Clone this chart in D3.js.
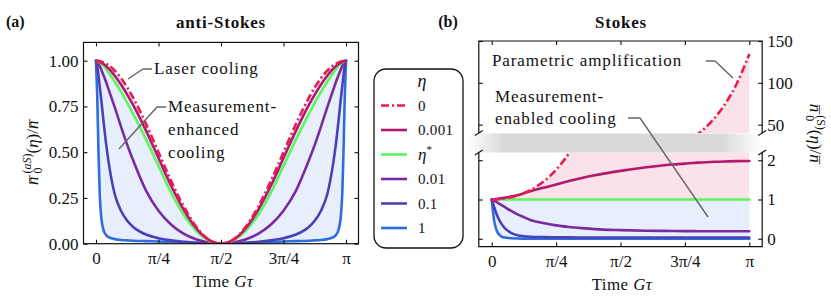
<!DOCTYPE html>
<html>
<head>
<meta charset="utf-8">
<script src="https://cdn.jsdelivr.net/npm/d3@7"></script>
<style>
  body { margin: 0; background: #fff; }
</style>
</head>
<body>
<svg id="fig" width="831" height="300"></svg>
<script>
// ---- data (time in units of pi) ----
const xTicks = [0, 0.25, 0.5, 0.75, 1];
const xTickLabels = ['0', 'π/4', 'π/2', '3π/4', 'π'];
const asYTicks = [0, 0.25, 0.5, 0.75, 1];
const sUpperTicks = [50, 100, 150];
const sLowerTicks = [0, 1, 2];
const etaLabels = ['0', '0.001', 'η*', '0.01', '0.1', '1'];

// anti-Stokes panel
const tAS = [0, 0.005, 0.01, 0.015, 0.02, 0.03, 0.04, 0.05, 0.075, 0.1, 0.125, 0.15, 0.2, 0.25, 0.3, 0.35, 0.4, 0.45, 0.5,
  0.55, 0.6, 0.65, 0.7, 0.75, 0.8, 0.85, 0.875, 0.9, 0.925, 0.95, 0.96, 0.97, 0.98, 0.985, 0.99, 0.995, 1];
const nAS_0 = [1, 1, 0.999, 0.998, 0.996, 0.991, 0.984, 0.976, 0.945, 0.905, 0.854, 0.794, 0.655, 0.5, 0.345, 0.206, 0.095, 0.024, 0,
  0.024, 0.095, 0.206, 0.345, 0.5, 0.655, 0.794, 0.854, 0.905, 0.945, 0.976, 0.984, 0.991, 0.996, 0.998, 0.999, 1, 1];
const nAS_0001 = [1, 0.999, 0.997, 0.994, 0.99, 0.982, 0.971, 0.958, 0.918, 0.87, 0.815, 0.755, 0.618, 0.468, 0.318, 0.188, 0.086, 0.022, 0,
  0.022, 0.086, 0.188, 0.318, 0.468, 0.618, 0.755, 0.815, 0.87, 0.918, 0.958, 0.971, 0.982, 0.99, 0.994, 0.997, 0.999, 1];
const nAS_star = [1, 0.998, 0.995, 0.99, 0.985, 0.972, 0.955, 0.935, 0.885, 0.83, 0.77, 0.705, 0.57, 0.425, 0.28, 0.16, 0.072, 0.018, 0,
  0.018, 0.072, 0.16, 0.28, 0.425, 0.57, 0.705, 0.77, 0.83, 0.885, 0.935, 0.955, 0.972, 0.985, 0.99, 0.995, 0.998, 1];
const nAS_001 = [1, 0.995, 0.985, 0.97, 0.955, 0.92, 0.885, 0.845, 0.745, 0.64, 0.54, 0.45, 0.29, 0.18, 0.105, 0.055, 0.024, 0.006, 0,
  0.006, 0.024, 0.055, 0.105, 0.18, 0.29, 0.45, 0.54, 0.64, 0.745, 0.845, 0.885, 0.92, 0.955, 0.97, 0.985, 0.995, 1];
const nAS_01 = [1, 0.97, 0.92, 0.86, 0.8, 0.67, 0.55, 0.45, 0.27, 0.18, 0.125, 0.09, 0.05, 0.03, 0.018, 0.01, 0.005, 0.001, 0,
  0.001, 0.005, 0.01, 0.018, 0.03, 0.05, 0.09, 0.125, 0.18, 0.27, 0.45, 0.55, 0.67, 0.8, 0.86, 0.92, 0.97, 1];
const nAS_1 = [1, 0.8, 0.5, 0.27, 0.16, 0.075, 0.048, 0.036, 0.025, 0.02, 0.018, 0.016, 0.014, 0.012, 0.01, 0.008, 0.005, 0.002, 0,
  0.002, 0.005, 0.008, 0.01, 0.012, 0.014, 0.016, 0.018, 0.02, 0.025, 0.036, 0.048, 0.075, 0.16, 0.27, 0.5, 0.8, 1];

// Stokes panel
const tS = [0, 0.005, 0.01, 0.015, 0.02, 0.03, 0.04, 0.05, 0.075, 0.1, 0.125, 0.15, 0.2, 0.25, 0.3, 0.35, 0.4, 0.5,
  0.6, 0.7, 0.75, 0.8, 0.85, 0.9, 0.95, 1];
const nS_0 = [1, 1, 1.001, 1.002, 1.004, 1.009, 1.016, 1.025, 1.057, 1.102, 1.162, 1.239, 1.45, 1.755, 2.185, 2.782, 3.607, 6.296,
  11.35, 20.83, 28.33, 38.63, 52.65, 71.9, 98.3, 134.4];
const nS_0001 = [1, 1.002, 1.005, 1.01, 1.015, 1.025, 1.035, 1.045, 1.075, 1.11, 1.16, 1.21, 1.3, 1.38, 1.47, 1.55, 1.62, 1.73,
  1.82, 1.89, 1.915, 1.94, 1.955, 1.97, 1.977, 1.98];
const nS_star = [1, 1, 1, 1, 1, 1, 1, 1, 1, 1, 1, 1, 1, 1, 1, 1, 1, 1, 1, 1, 1, 1, 1, 1, 1, 1];
const nS_001 = [1, 0.99, 0.97, 0.95, 0.93, 0.89, 0.85, 0.81, 0.71, 0.62, 0.55, 0.48, 0.4, 0.34, 0.3, 0.27, 0.245, 0.22,
  0.205, 0.198, 0.195, 0.193, 0.191, 0.19, 0.19, 0.19];
const nS_01 = [1, 0.9, 0.8, 0.7, 0.61, 0.47, 0.36, 0.28, 0.15, 0.09, 0.065, 0.052, 0.042, 0.038, 0.035, 0.033, 0.032, 0.031,
  0.03, 0.03, 0.03, 0.03, 0.03, 0.03, 0.03, 0.03];
const nS_1 = [1, 0.7, 0.45, 0.3, 0.2, 0.1, 0.05, 0.03, 0.012, 0.006, 0.004, 0.003, 0.002, 0.002, 0.002, 0.002, 0.002, 0.002,
  0.002, 0.002, 0.002, 0.002, 0.002, 0.002, 0.002, 0.002];

// ---- styles ----
const font = '"Liberation Serif", "Times New Roman", serif';
const fs = 17;
const colors = ['#ee1a4c', '#b1196e', '#5cf55c', '#7a2ba0', '#4b41b6', '#2d6de0'];
const lw = 2.6;
const dashDot = '8,3,2,3';
const blueFill = '#e7eefc';
const pinkFill = '#fbe2e8';
const ink = '#111';

const svg = d3.select('#fig');
const defs = svg.append('defs');

const styleAxis = g => {
    g.select('.domain').remove();
    g.selectAll('line').attr('stroke', ink).attr('stroke-width', 1.1);
    g.selectAll('text').attr('font-family', font).attr('font-size', fs).attr('fill', ink);
};

const addClip = (id, x, y, w, h) => {
    defs.append('clipPath').attr('id', id).append('rect')
        .attr('x', x).attr('y', y).attr('width', w).attr('height', h);
};

const addText = (x, y, parts, opts = {}) => {
    const t = svg.append('text')
        .attr('x', x).attr('y', y)
        .attr('font-family', font)
        .attr('font-size', opts.size || fs)
        .attr('font-weight', opts.bold ? 'bold' : null)
        .attr('letter-spacing', opts.ls || null)
        .attr('text-anchor', opts.anchor || 'start')
        .attr('fill', ink);
    if (opts.transform) t.attr('transform', opts.transform).attr('x', 0).attr('y', 0);
    parts.forEach(p => {
        if (typeof p === 'string') { t.append('tspan').text(p); return; }
        const s = t.append('tspan').text(p.t);
        if (p.i) s.attr('font-style', 'italic');
        if (p.size) s.attr('font-size', p.size);
        if (p.dx) s.attr('dx', p.dx);
        if (p.dy) s.attr('dy', p.dy);
    });
    return t;
};

const leader = pts => {
    svg.append('path')
        .attr('d', d3.line()(pts))
        .attr('fill', 'none').attr('stroke', '#666').attr('stroke-width', 1.4);
};

// n-bar with sub/superscripts, for the rotated axis labels
const nBarLabel = sup => [
    { t: 'n', i: true }, { t: '¯', dx: -7, dy: 3.5 },
    { t: '0', size: 12, dx: 1.5, dy: 0.5 },
    ...sup,
    { t: '(', dy: 7 }, { t: 'η', i: true }, ')/',
    { t: 'n', i: true }, { t: '¯', dx: -7, dy: 3.5 }
];

// ================= (a) anti-Stokes =================
const xL = d3.scaleLinear().domain([-0.05, 1.05]).range([83.5, 358.5]);
const yL = d3.scaleLinear().domain([0, 1.1]).range([243.7, 42.4]);
addClip('clipL', 83.5, 42.4, 275, 201.3);

const gL = svg.append('g').attr('clip-path', 'url(#clipL)');
gL.append('path')
    .attr('d', d3.area()
        .x((d, i) => xL(tAS[i]))
        .y0((d, i) => yL(nAS_1[i]))
        .y1(d => yL(d))
        .curve(d3.curveMonotoneX)(nAS_0))
    .attr('fill', blueFill);

const seriesAS = [nAS_0, nAS_0001, nAS_star, nAS_001, nAS_01, nAS_1];
const lineL = d3.line().x((d, i) => xL(tAS[i])).y(d => yL(d)).curve(d3.curveMonotoneX);
seriesAS.slice().reverse().forEach((s, k) => {
    const idx = seriesAS.length - 1 - k;
    gL.append('path')
        .attr('d', lineL(s))
        .attr('fill', 'none')
        .attr('stroke', colors[idx])
        .attr('stroke-width', lw)
        .attr('stroke-linecap', idx === 0 ? 'butt' : 'round')
        .attr('stroke-dasharray', idx === 0 ? dashDot : null);
});

svg.append('g').attr('transform', 'translate(0,243.7)')
    .call(d3.axisBottom(xL).tickValues(xTicks).tickFormat((d, i) => xTickLabels[i]).tickSize(-4).tickPadding(8))
    .call(styleAxis);
svg.append('g').attr('transform', 'translate(0,42.4)')
    .call(d3.axisTop(xL).tickValues(xTicks).tickFormat('').tickSize(-4))
    .call(styleAxis);
svg.append('g').attr('transform', 'translate(83.5,0)')
    .call(d3.axisLeft(yL).tickValues(asYTicks).tickFormat(d3.format('.2f')).tickSize(-4).tickPadding(5))
    .call(styleAxis);
svg.append('g').attr('transform', 'translate(358.5,0)')
    .call(d3.axisRight(yL).tickValues(asYTicks).tickFormat('').tickSize(-4))
    .call(styleAxis);
svg.append('rect')
    .attr('x', 83.5).attr('y', 42.4).attr('width', 275).attr('height', 201.3)
    .attr('fill', 'none').attr('stroke', ink).attr('stroke-width', 1.2);

addText(6, 27, ['(a)'], { bold: true, size: 16 });
addText(221, 28, ['anti-Stokes'], { bold: true, anchor: 'middle', ls: 0.8 });
addText(223, 287, ['Time ', { t: 'Gτ', i: true }], { anchor: 'middle', ls: 0.4 });
addText(0, 0, nBarLabel([
    { t: '(', size: 12, dx: -6, dy: -11 }, { t: 'aS', size: 12, i: true }, { t: ')', size: 12 }]),
    { anchor: 'middle', transform: 'translate(38,152) rotate(-90)' });

leader([[128, 79], [143, 69], [152, 69]]);
addText(154, 74, ['Laser cooling'], { ls: 0.9 });
leader([[119, 149], [157, 107], [166, 107]]);
addText(168, 112, ['Measurement-'], { ls: 0.9 });
addText(168, 135, ['enhanced'], { ls: 0.9 });
addText(168, 158, ['cooling'], { ls: 0.9 });

// ================= legend =================
svg.append('rect')
    .attr('x', 374).attr('y', 69).attr('width', 89).attr('height', 179).attr('rx', 12)
    .attr('fill', '#fff').attr('stroke', ink).attr('stroke-width', 1.3);
addText(422, 87, [{ t: 'η', i: true }], { anchor: 'middle', size: 18 });
etaLabels.forEach((lab, i) => {
    const y = 105.5 + i * 24.5;
    svg.append('line')
        .attr('x1', 381).attr('x2', 407).attr('y1', y).attr('y2', y)
        .attr('stroke', colors[i]).attr('stroke-width', lw)
        .attr('stroke-dasharray', i === 0 ? dashDot : null);
    if (lab === 'η*') {
        addText(418, y + 5, [{ t: 'η', i: true }, { t: '*', size: 11, dy: -7 }], { size: 17 });
    } else {
        addText(418, y + 5, [lab], { size: 15, ls: 0.3 });
    }
});

// ================= (b) Stokes =================
const xR = d3.scaleLinear().domain([-0.05, 1.05]).range([478.8, 762.2]);
const yRU = d3.scaleLinear().domain([40, 150]).range([133, 41]);
const yRL = d3.scaleLinear().domain([-0.2, 2.2]).range([246.6, 152.4]);
addClip('clipRU', 478.8, 41, 283.4, 92);
addClip('clipRL', 478.8, 152.4, 283.4, 94.2);

// upper part
const gRU = svg.append('g').attr('clip-path', 'url(#clipRU)');
gRU.append('path')
    .attr('d', d3.area()
        .x((d, i) => xR(tS[i]))
        .y0(yRU(30))
        .y1(d => yRU(d))
        .curve(d3.curveMonotoneX)(nS_0))
    .attr('fill', pinkFill);
gRU.append('path')
    .attr('d', d3.line().x((d, i) => xR(tS[i])).y(d => yRU(d)).curve(d3.curveMonotoneX)(nS_0))
    .attr('fill', 'none').attr('stroke', colors[0]).attr('stroke-width', lw)
    .attr('stroke-dasharray', dashDot);

// lower part
const gRL = svg.append('g').attr('clip-path', 'url(#clipRL)');
gRL.append('path')
    .attr('d', d3.area()
        .x((d, i) => xR(tS[i]))
        .y0((d, i) => yRL(nS_star[i]))
        .y1(d => yRL(d))
        .curve(d3.curveMonotoneX)(nS_0))
    .attr('fill', pinkFill);
gRL.append('path')
    .attr('d', d3.area()
        .x((d, i) => xR(tS[i]))
        .y0((d, i) => yRL(nS_1[i]))
        .y1(d => yRL(d))
        .curve(d3.curveMonotoneX)(nS_star))
    .attr('fill', blueFill);

const seriesS = [nS_0, nS_0001, nS_star, nS_001, nS_01, nS_1];
const lineRL = d3.line().x((d, i) => xR(tS[i])).y(d => yRL(d)).curve(d3.curveMonotoneX);
seriesS.slice().reverse().forEach((s, k) => {
    const idx = seriesS.length - 1 - k;
    gRL.append('path')
        .attr('d', lineRL(s))
        .attr('fill', 'none')
        .attr('stroke', colors[idx])
        .attr('stroke-width', lw)
        .attr('stroke-linecap', idx === 0 ? 'butt' : 'round')
        .attr('stroke-dasharray', idx === 0 ? dashDot : null);
});

// axes
svg.append('g').attr('transform', 'translate(0,246.6)')
    .call(d3.axisBottom(xR).tickValues(xTicks).tickFormat((d, i) => xTickLabels[i]).tickSize(-4).tickPadding(8))
    .call(styleAxis);
svg.append('g').attr('transform', 'translate(0,41)')
    .call(d3.axisTop(xR).tickValues(xTicks).tickFormat('').tickSize(-4))
    .call(styleAxis);
svg.append('g').attr('transform', 'translate(478.8,0)')
    .call(d3.axisLeft(yRU).tickValues(sUpperTicks).tickFormat('').tickSize(-4))
    .call(styleAxis);
svg.append('g').attr('transform', 'translate(478.8,0)')
    .call(d3.axisLeft(yRL).tickValues(sLowerTicks).tickFormat('').tickSize(-4))
    .call(styleAxis);
svg.append('g').attr('transform', 'translate(762.2,0)')
    .call(d3.axisRight(yRU).tickValues(sUpperTicks).tickFormat(d3.format('d')).tickSize(-4).tickPadding(5))
    .call(styleAxis);
svg.append('g').attr('transform', 'translate(762.2,0)')
    .call(d3.axisRight(yRL).tickValues(sLowerTicks).tickFormat(d3.format('d')).tickSize(-4).tickPadding(5))
    .call(styleAxis);

svg.append('path')
    .attr('d', 'M478.8,133V41H762.2V133M478.8,152.4V246.6H762.2V152.4')
    .attr('fill', 'none').attr('stroke', ink).attr('stroke-width', 1.2);

// break band + marks
const grad = defs.append('linearGradient').attr('id', 'bandGrad');
[[0, 0], [0.12, 1], [0.86, 1], [1, 0]].forEach(([o, op]) => {
    grad.append('stop').attr('offset', o).attr('stop-color', '#d9d9d9').attr('stop-opacity', op);
});
svg.append('rect')
    .attr('x', 468).attr('y', 133.5).attr('width', 294).attr('height', 19)
    .attr('fill', 'url(#bandGrad)');
[[478.8, 133], [762.2, 133], [478.8, 152.4], [762.2, 152.4]].forEach(([x, y]) => {
    svg.append('path')
        .attr('d', d3.line()([[x - 4, y + 2.5], [x + 4, y - 2.5]]))
        .attr('stroke', ink).attr('stroke-width', 1.2);
});

addText(448, 27, ['(b)'], { bold: true, size: 16, anchor: 'middle' });
addText(621, 28, ['Stokes'], { bold: true, anchor: 'middle', ls: 0.8 });
addText(622, 290, ['Time ', { t: 'Gτ', i: true }], { anchor: 'middle', ls: 0.4 });
addText(0, 0, nBarLabel([{ t: '(S)', size: 12, dx: -6, dy: -11 }]),
    { anchor: 'middle', transform: 'translate(810,134) rotate(90)' });

leader([[706, 61], [715, 61], [733, 78]]);
addText(492, 66, ['Parametric amplification'], { ls: 0.9 });
leader([[628, 118], [640, 118], [708, 217]]);
addText(495, 101.5, ['Measurement-'], { ls: 0.9 });
addText(495, 123.5, ['enabled cooling'], { ls: 0.9 });
</script>
</body>
</html>
